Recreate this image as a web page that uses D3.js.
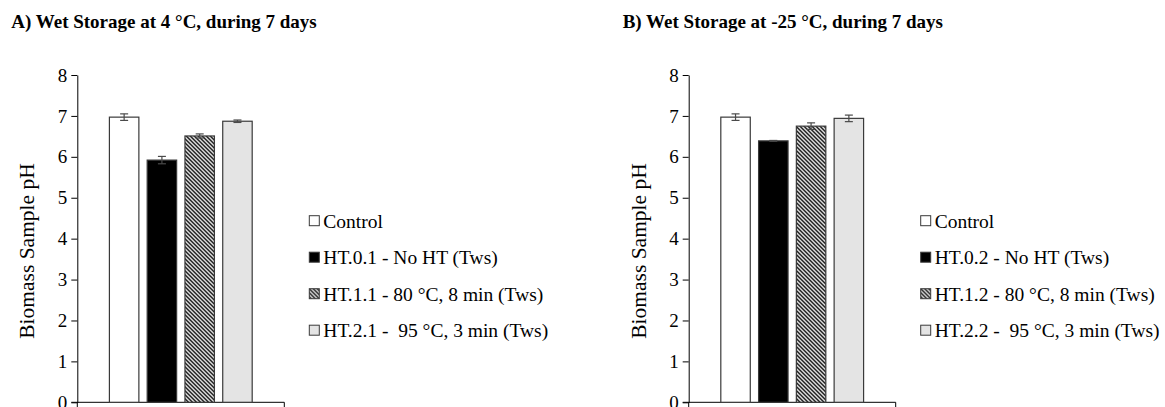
<!DOCTYPE html>
<html>
<head>
<meta charset="utf-8">
<script src="https://d3js.org/d3.v7.min.js"></script>
<style>
body{margin:0;background:#fff;}
</style>
</head>
<body>
<svg id="chart" width="1165" height="407"></svg>
<script>
// values
var titles = ["A) Wet Storage at 4 °C, during 7 days", "B) Wet Storage at -25 °C, during 7 days"];
var seriesA = ["Control", "HT.0.1 - No HT (Tws)", "HT.1.1 - 80 °C, 8 min (Tws)", "HT.2.1 -  95 °C, 3 min (Tws)"];
var seriesB = ["Control", "HT.0.2 - No HT (Tws)", "HT.1.2 - 80 °C, 8 min (Tws)", "HT.2.2 -  95 °C, 3 min (Tws)"];
var valuesA = [6.97, 5.92, 6.51, 6.87];
var errA = [0.08, 0.09, 0.05, 0.03];
var valuesB = [6.97, 6.39, 6.75, 6.94];
var errB = [0.08, 0.01, 0.08, 0.08];
var yTicks = [0, 1, 2, 3, 4, 5, 6, 7, 8];
var yLabel = "Biomass Sample pH";

var fills = ["#ffffff", "#000000", "url(#hatch)", "#e4e4e4"];
var serif = 'Times New Roman, Liberation Serif, serif';

var svg = d3.select('#chart');

var defs = svg.append('defs');
var pat = defs.append('pattern')
    .attr('id', 'hatch')
    .attr('patternUnits', 'userSpaceOnUse')
    .attr('width', 4)
    .attr('height', 4);
pat.append('rect').attr('width', 4).attr('height', 4).attr('fill', '#fff');
pat.append('path')
    .attr('d', 'M0,0L2,0L4,2L4,4Z M0,2L2,4L0,4Z')
    .attr('fill', '#000');

function drawPanel(ox, title, names, values, errs){
    var g = svg.append('g').attr('transform', 'translate(' + ox + ',0)');

    var y = d3.scaleLinear().domain([0, 8]).range([402.3, 75]);
    var x = d3.scaleBand().domain(d3.range(names.length))
        .range([0, 207]).paddingInner(0.22).paddingOuter(0.85);

    g.append('text')
        .attr('x', -66)
        .attr('y', 28)
        .style('font-family', serif)
        .style('font-size', '19px')
        .style('font-weight', 'bold')
        .style('white-space', 'pre')
        .text(title);

    var yAxis = g.append('g')
        .call(d3.axisLeft(y).tickValues(yTicks).tickSizeInner(6).tickSizeOuter(0).tickPadding(4));
    yAxis.select('.domain').attr('stroke', '#000');
    yAxis.selectAll('.tick line').attr('stroke', '#000');
    yAxis.selectAll('.tick text')
        .attr('fill', '#000')
        .style('font-size', '19px')
        .style('font-family', serif);

    // category axis
    g.append('line')
        .attr('x1', -6).attr('x2', 207)
        .attr('y1', y(0)).attr('y2', y(0))
        .attr('stroke', '#000');
    g.selectAll('.ctick')
        .data([0, 207])
        .join('line')
        .attr('class', 'ctick')
        .attr('x1', d => d).attr('x2', d => d)
        .attr('y1', y(0)).attr('y2', y(0) + 6)
        .attr('stroke', '#000');

    g.selectAll('.bar')
        .data(values)
        .join('rect')
        .attr('class', 'bar')
        .attr('x', (d, i) => x(i))
        .attr('y', d => y(d))
        .attr('width', x.bandwidth())
        .attr('height', d => y(0) - y(d))
        .attr('fill', (d, i) => fills[i])
        .attr('stroke', '#3a3a3a')
        .attr('stroke-width', 1.2);

    var eb = g.selectAll('.err')
        .data(values)
        .join('g')
        .attr('class', 'err')
        .attr('stroke', '#4a4a4a')
        .attr('stroke-width', 1.2);
    eb.append('line')
        .attr('x1', (d, i) => x(i) + x.bandwidth() / 2)
        .attr('x2', (d, i) => x(i) + x.bandwidth() / 2)
        .attr('y1', (d, i) => y(d + errs[i]))
        .attr('y2', (d, i) => y(d - errs[i]));
    eb.append('line')
        .attr('x1', (d, i) => x(i) + x.bandwidth() / 2 - 4)
        .attr('x2', (d, i) => x(i) + x.bandwidth() / 2 + 4)
        .attr('y1', (d, i) => y(d + errs[i]))
        .attr('y2', (d, i) => y(d + errs[i]));
    eb.append('line')
        .attr('x1', (d, i) => x(i) + x.bandwidth() / 2 - 4)
        .attr('x2', (d, i) => x(i) + x.bandwidth() / 2 + 4)
        .attr('y1', (d, i) => y(d - errs[i]))
        .attr('y2', (d, i) => y(d - errs[i]));

    g.append('text')
        .attr('transform', 'translate(-43,251) rotate(-90)')
        .attr('text-anchor', 'middle')
        .style('font-family', serif)
        .style('font-size', '21.5px')
        .text(yLabel);

    // legend
    var leg = g.selectAll('.leg')
        .data(names)
        .join('g')
        .attr('class', 'leg')
        .attr('transform', (d, i) => 'translate(232,' + (220.7 + i * 36.5) + ')');
    leg.append('rect')
        .attr('x', 0).attr('y', -5)
        .attr('width', 10).attr('height', 10)
        .attr('fill', (d, i) => fills[i])
        .attr('stroke', '#3a3a3a')
        .attr('stroke-width', 1);
    leg.append('text')
        .attr('x', 14)
        .attr('dy', '0.35em')
        .style('font-family', serif)
        .style('font-size', '19.5px')
        .style('white-space', 'pre')
        .text(d => d);
}

drawPanel(77.3, titles[0], seriesA, valuesA, errA);
drawPanel(688.7, titles[1], seriesB, valuesB, errB);
</script>
</body>
</html>
